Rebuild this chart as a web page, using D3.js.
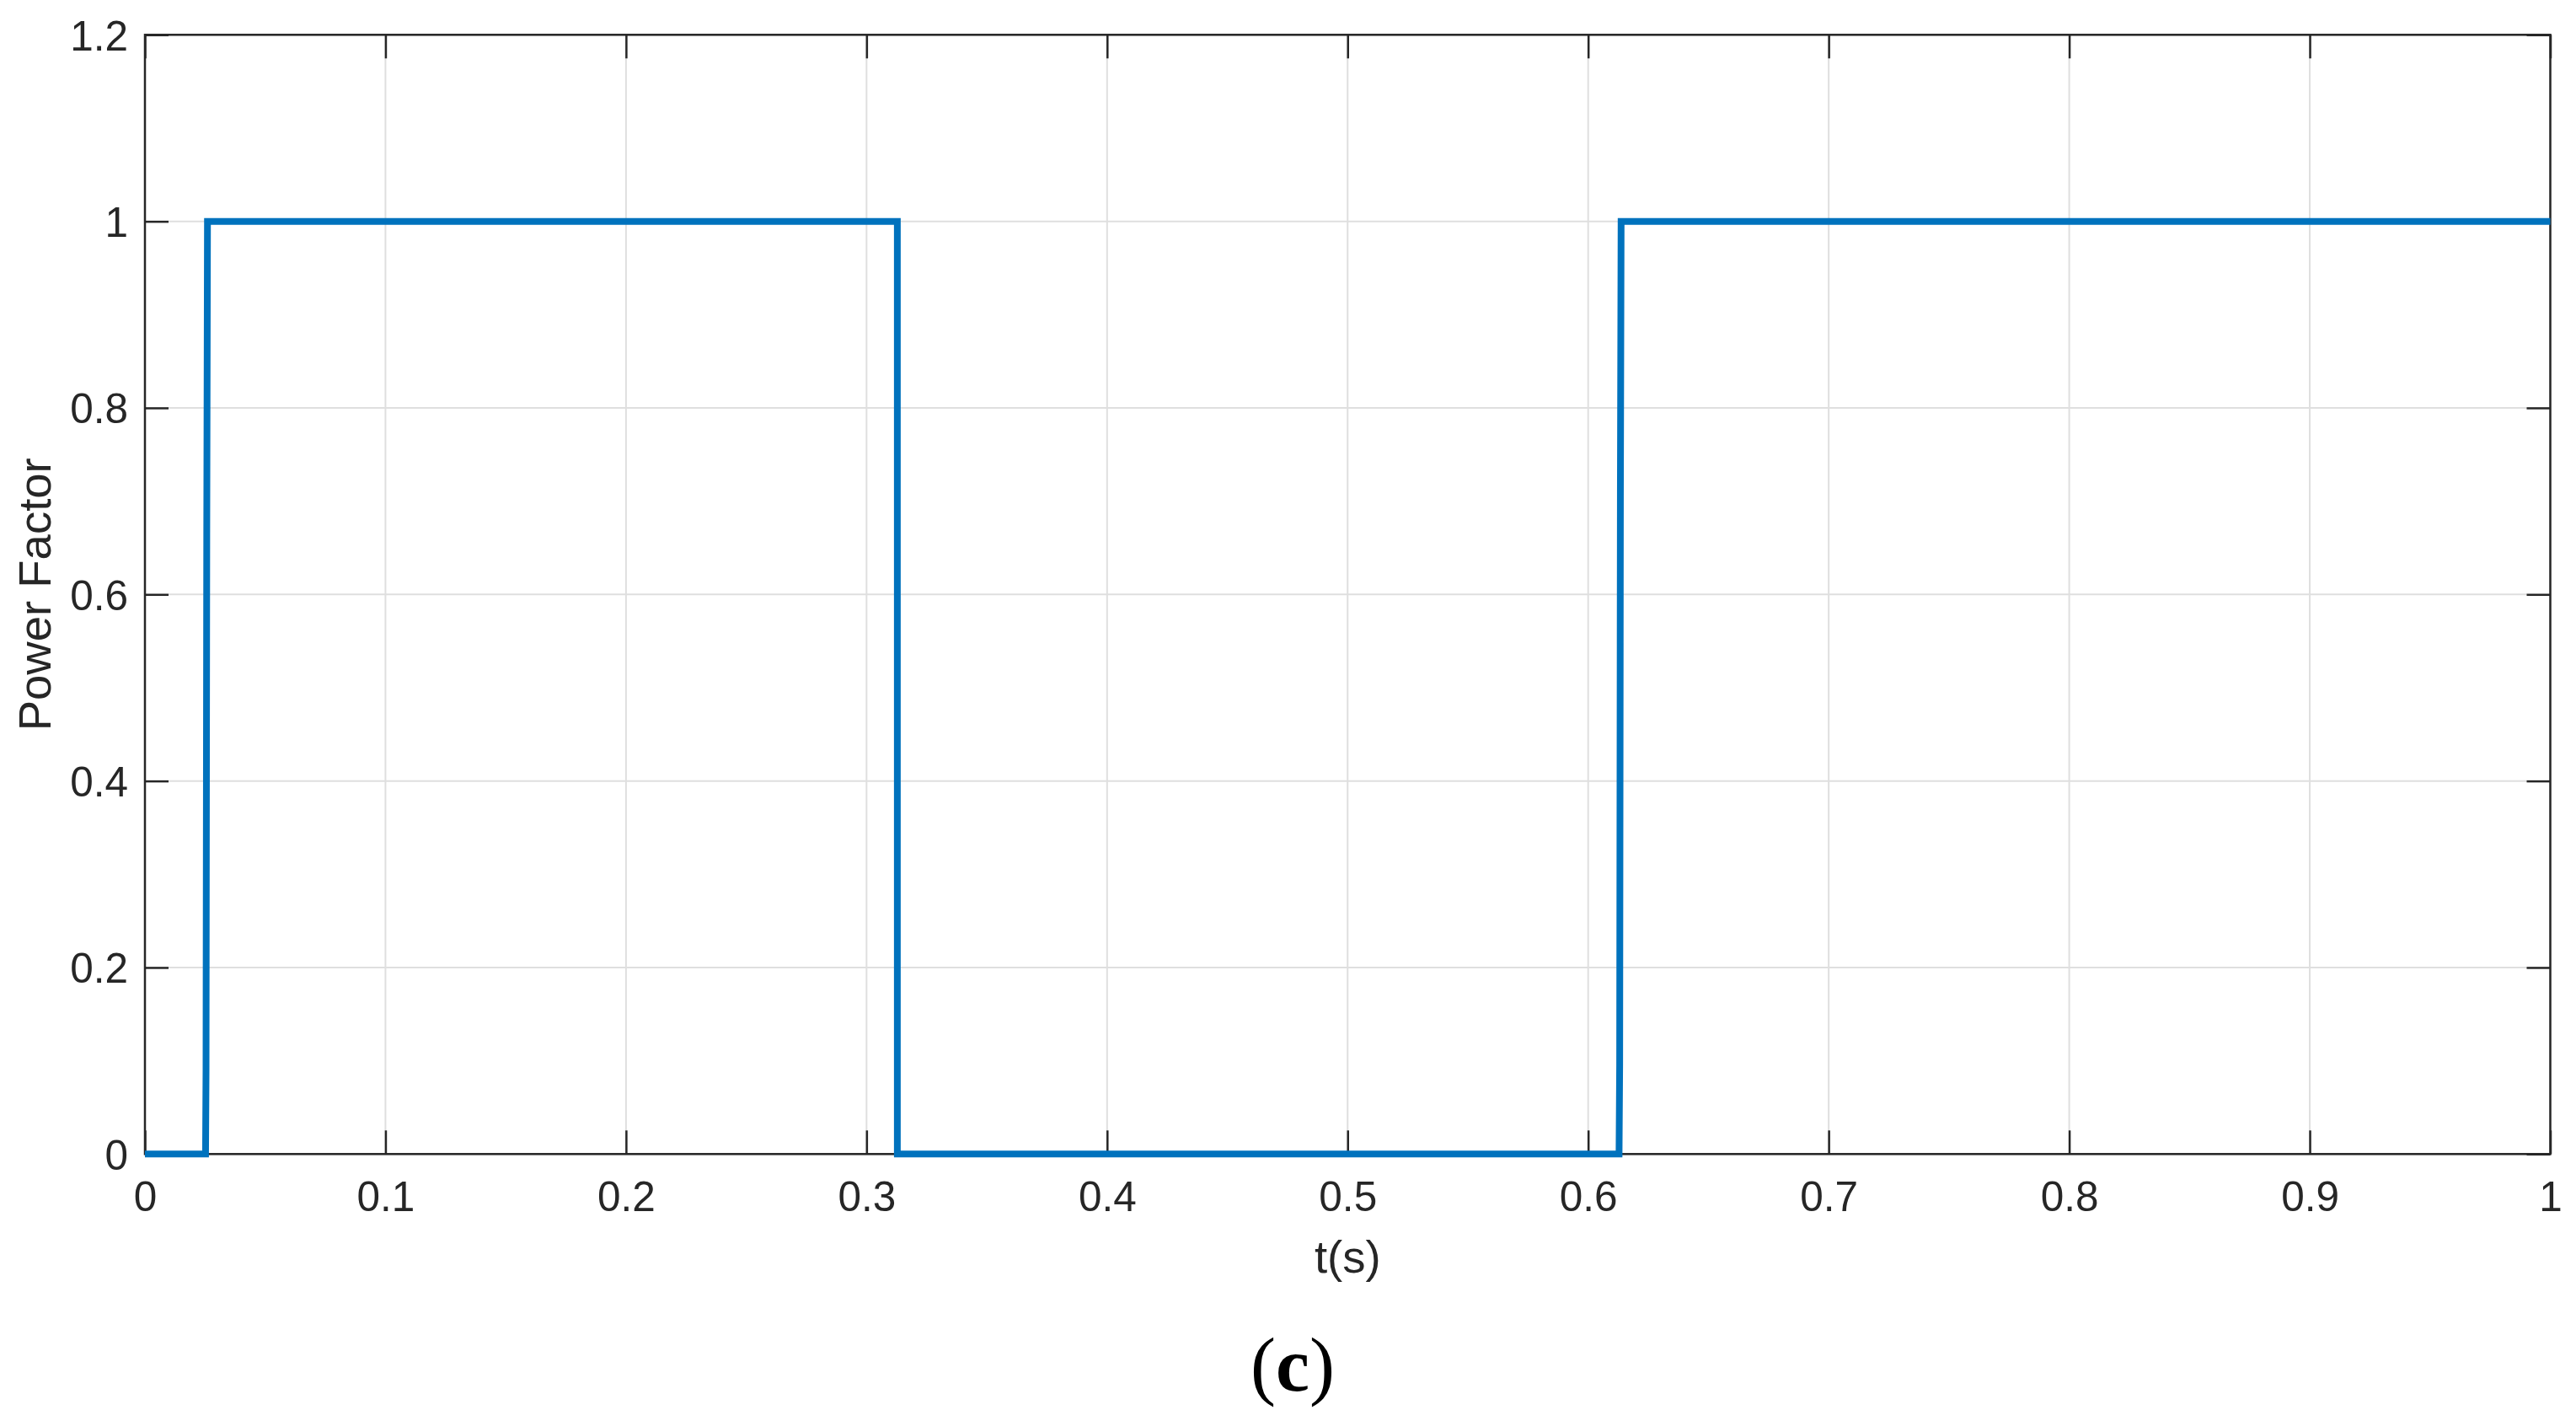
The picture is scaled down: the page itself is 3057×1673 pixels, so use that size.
<!DOCTYPE html>
<html>
<head>
<meta charset="utf-8">
<script src="https://cdn.jsdelivr.net/npm/d3@7"></script>
<style>
  html, body { margin: 0; padding: 0; background: #ffffff; }
  svg { display: block; }
</style>
</head>
<body>
<script>
// ---- data ----
const xTicks = [0, 0.1, 0.2, 0.3, 0.4, 0.5, 0.6, 0.7, 0.8, 0.9, 1];
const xTickLabels = ["0", "0.1", "0.2", "0.3", "0.4", "0.5", "0.6", "0.7", "0.8", "0.9", "1"];
const yTicks = [0, 0.2, 0.4, 0.6, 0.8, 1, 1.2];
const yTickLabels = ["0", "0.2", "0.4", "0.6", "0.8", "1", "1.2"];
const tValues = [0, 0.0252, 0.0254, 0.0257, 0.0260, 0.3128, 0.3128, 0.61285, 0.6131, 0.6134, 0.6137, 1];
const pfValues = [0, 0, 0.09, 0.67, 1, 1, 0, 0, 0.095, 0.705, 1, 1];
const xLabel = "t(s)";
const yLabel = "Power Factor";
const captionLetter = "c";

// ---- layout ----
const W = 3057, H = 1673;
const mLeft = 172, mRight = 3026.5, mTop = 41.3, mBottom = 1369.3;
const axisColor = "#262626";
const gridColor = "#dfdfdf";
const tickLen = 28;
const tickFont = 49.5;
const labelFont = 54.5;

const svg = d3.select("body").append("svg")
  .attr("width", W).attr("height", H)
  .attr("viewBox", `0 0 ${W} ${H}`);

const x = d3.scaleLinear().domain([0, 1]).range([mLeft, mRight]);
const y = d3.scaleLinear().domain([0, 1.2]).range([mBottom, mTop]);

// grid
const grid = svg.append("g");
grid.selectAll("line.gx").data(xTicks).join("line").attr("class", "gx")
  .attr("x1", d => x(d)).attr("x2", d => x(d))
  .attr("y1", mTop).attr("y2", mBottom)
  .attr("stroke", gridColor).attr("stroke-width", 2);
grid.selectAll("line.gy").data(yTicks).join("line").attr("class", "gy")
  .attr("y1", d => y(d)).attr("y2", d => y(d))
  .attr("x1", mLeft).attr("x2", mRight)
  .attr("stroke", gridColor).attr("stroke-width", 2);

function styleAxis(g) {
  g.select(".domain").remove();
  g.selectAll(".tick line").attr("stroke", axisColor).attr("stroke-width", 2.5);
  g.selectAll(".tick text")
    .attr("fill", axisColor)
    .style("font-family", "'Liberation Sans', Arial, sans-serif")
    .style("font-size", tickFont + "px");
}

// bottom axis
const gx = svg.append("g").attr("transform", `translate(0,${mBottom})`)
  .call(d3.axisBottom(x).tickValues(xTicks).tickFormat((d, i) => xTickLabels[i])
    .tickSizeInner(-tickLen).tickSizeOuter(0).tickPadding(0));
styleAxis(gx);
gx.selectAll(".tick text").attr("y", 67.5).attr("dy", 0);

// top axis (ticks only)
const gxt = svg.append("g").attr("transform", `translate(0,${mTop})`)
  .call(d3.axisTop(x).tickValues(xTicks).tickFormat("")
    .tickSizeInner(-tickLen).tickSizeOuter(0));
styleAxis(gxt);

// left axis
const gy = svg.append("g").attr("transform", `translate(${mLeft},0)`)
  .call(d3.axisLeft(y).tickValues(yTicks).tickFormat((d, i) => yTickLabels[i])
    .tickSizeInner(-tickLen).tickSizeOuter(0).tickPadding(0));
styleAxis(gy);
gy.selectAll(".tick text").attr("x", -20).attr("dy", "0.36em");

// right axis (ticks only)
const gyr = svg.append("g").attr("transform", `translate(${mRight},0)`)
  .call(d3.axisRight(y).tickValues(yTicks).tickFormat("")
    .tickSizeInner(-tickLen).tickSizeOuter(0));
styleAxis(gyr);

// box
svg.append("rect")
  .attr("x", mLeft).attr("y", mTop)
  .attr("width", mRight - mLeft).attr("height", mBottom - mTop)
  .attr("fill", "none").attr("stroke", axisColor).attr("stroke-width", 2.5);

// data line
const pts = tValues.map((t, i) => [t, pfValues[i]]);
const line = d3.line().x(d => x(d[0])).y(d => y(d[1]));
svg.append("path")
  .attr("d", line(pts))
  .attr("fill", "none")
  .attr("stroke", "#0072BD")
  .attr("stroke-width", 8)
  .attr("stroke-linejoin", "miter")
  .attr("stroke-linecap", "butt");

// axis labels
svg.append("text")
  .attr("x", (mLeft + mRight) / 2).attr("y", 1510)
  .attr("text-anchor", "middle")
  .attr("fill", axisColor)
  .style("font-family", "'Liberation Sans', Arial, sans-serif")
  .style("font-size", labelFont + "px")
  .text(xLabel);

svg.append("text")
  .attr("transform", `translate(60,${(mTop + mBottom) / 2}) rotate(-90)`)
  .attr("text-anchor", "middle")
  .attr("fill", axisColor)
  .style("font-family", "'Liberation Sans', Arial, sans-serif")
  .style("font-size", labelFont + "px")
  .text(yLabel);

// caption: regular parentheses, bold letter
const cap = svg.append("text")
  .attr("x", 1534).attr("y", 1650)
  .attr("text-anchor", "middle")
  .attr("fill", "#000000")
  .style("font-family", "'Liberation Serif', 'Times New Roman', serif")
  .style("font-size", "90px");
cap.append("tspan").text("(");
cap.append("tspan").style("font-weight", "bold").text(captionLetter);
cap.append("tspan").text(")");
</script>
</body>
</html>
